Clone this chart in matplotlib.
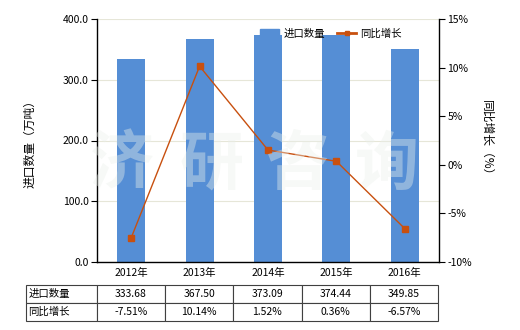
import numpy as np
import matplotlib
matplotlib.use('Agg')
import matplotlib.pyplot as plt
from matplotlib.lines import Line2D
from matplotlib.patches import Patch

plt.rcParams['font.family'] = ['Noto Sans CJK SC', 'DejaVu Sans']

# data
years = ['2012年', '2013年', '2014年', '2015年', '2016年']
volume = [333.68, 367.50, 373.09, 374.44, 349.85]
growth = [-7.51, 10.14, 1.52, 0.36, -6.57]
volume_labels = ['333.68', '367.50', '373.09', '374.44', '349.85']
growth_labels = ['-7.51%', '10.14%', '1.52%', '0.36%', '-6.57%']

bar_color = '#558ED5'
line_color = '#C8500F'

fig = plt.figure(figsize=(5.2, 3.3), dpi=100)
# axes box: x 97..439, y 19..262 px
ax = fig.add_axes([97/520, 1 - 262/330, 342/520, 243/330])
x = np.arange(len(years))

ax.bar(x, volume, width=0.41, color=bar_color, zorder=2)
ax.set_xlim(-0.5, len(years) - 0.5)
ax.set_ylim(0, 400)
ax.set_yticks([0, 100, 200, 300, 400])
ax.set_yticklabels(['%.1f' % v for v in [0, 100, 200, 300, 400]])
ax.yaxis.grid(True, color='#E6E6D8', linewidth=0.8, zorder=0)
ax.set_xticks(x)
ax.set_xticklabels(years)
ax.tick_params(axis='x', length=0, labelsize=7.5, pad=4)
ax.tick_params(axis='y', length=4, width=0.8, labelsize=7.5, pad=2)
ax.spines['top'].set_visible(False)
ax.spines['right'].set_visible(False)
ax.spines['left'].set_linewidth(1)
ax.spines['bottom'].set_linewidth(1)
ax.set_ylabel('进口数量（万吨）', fontsize=8.5, labelpad=19)

ax2 = ax.twinx()
ax2.plot(x, growth, color=line_color, linewidth=1, marker='s', markersize=4, zorder=3)
ax2.set_ylim(-10, 15)
ax2.set_yticks([-10, -5, 0, 5, 10, 15])
ax2.set_yticklabels(['%d%%' % v for v in [-10, -5, 0, 5, 10, 15]])
ax2.tick_params(axis='y', length=4, width=0.8, labelsize=7.5, pad=2)
for s in ['top', 'left', 'bottom']:
    ax2.spines[s].set_visible(False)
ax2.spines['right'].set_linewidth(1)
ax2.set_ylabel('同比增长（%）', fontsize=8.5, rotation=-90, labelpad=15)

handles = [Patch(color=bar_color), Line2D([], [], color=line_color, linewidth=2, marker='s', markersize=3)]
ax2.legend(handles, ['进口数量', '同比增长'], loc='upper left', bbox_to_anchor=(0.45, 1.0),
           ncol=2, frameon=False, fontsize=7.5, handlelength=1.8, columnspacing=1.2,
           handletextpad=0.4)

# watermark
for ch, cx in zip('济研咨询', [122, 212, 298, 387]):
    fig.text(cx / 520, 0.5, ch, fontsize=46, color='#EBF0EB', alpha=0.4,
             ha='center', va='center', fontweight='bold', zorder=10)

# data table below axes
cells = [['进口数量'] + volume_labels, ['同比增长'] + growth_labels]
col_w = 1.0 / len(years)
tbl = ax.table(cellText=cells, cellLoc='center',
               colWidths=[(97 - 26) / 342] + [col_w] * len(years),
               bbox=[(26 - 97) / 342, (262 - 321) / 243, (438 - 26) / 342, 36 / 243])
tbl.auto_set_font_size(False)
tbl.set_fontsize(7.5)
for (r, c), cell in tbl.get_celld().items():
    cell.set_edgecolor('#404040')
    cell.set_linewidth(0.8)
    if c == 0:
        cell.set_text_props(ha='left')
        cell.PAD = 0.03

fig.savefig('out.png', dpi=100)
